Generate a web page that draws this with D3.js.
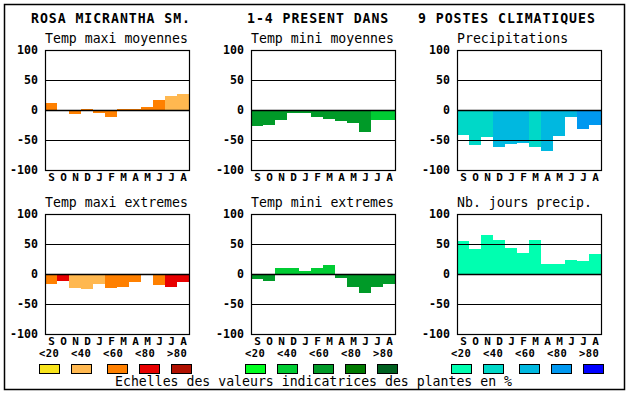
<!DOCTYPE html>
<html>
<head>
<meta charset="utf-8">
<script src="https://cdn.jsdelivr.net/npm/d3@7"></script>
<style>
  body { margin: 0; background: #fff; }
  svg text { font-family: "DejaVu Sans Mono", monospace; fill: #000; }
</style>
</head>
<body>
<div id="chart"></div>
<script>
// months, Sept -> Aug
var months = ["S", "O", "N", "D", "J", "F", "M", "A", "M", "J", "J", "A"];
var yTicks = [100, 50, 0, -50, -100];
var legendLabels = ["<20", "<40", "<60", "<80", ">80"];

var headerTexts = ["ROSA MICRANTHA SM.", "1-4 PRESENT DANS", "9 POSTES CLIMATIQUES"];
var footerText = "Echelles des valeurs indicatrices des plantes en %";

var warmColors = ["#f8e41c", "#ffb850", "#ff8000", "#e80000", "#b01000"];
var greenColors = ["#00ff20", "#00cc33", "#009a28", "#007a00", "#006020"];
var blueColors = ["#00ffb0", "#00d8c8", "#00b8e0", "#0098f0", "#0000ff"];

var panelTitles = ["Temp maxi moyennes", "Temp mini moyennes", "Precipitations",
  "Temp maxi extremes", "Temp mini extremes", "Nb. jours precip."];

// values per month and colour class (index into the palette)
var tmaxMoy = [12, 0, -6, 2, -5, -12, 2, 2, 5, 16, 24, 27];
var tmaxMoyCls = [2, 2, 2, 2, 2, 2, 2, 2, 2, 2, 1, 1];
var tminMoy = [-27, -25, -17, -5, -5, -12, -15, -18, -22, -37, -17, -17];
var tminMoyCls = [2, 2, 2, 2, 2, 2, 2, 2, 2, 2, 1, 1];
var precip = [-42, -58, -45, -62, -57, -55, -62, -68, -43, -12, -32, -25];
var precipCls = [1, 1, 1, 2, 2, 2, 1, 2, 2, 2, 3, 3];
var tmaxExt = [-17, -11, -23, -25, -17, -23, -22, -13, 0, -18, -22, -13];
var tmaxExtCls = [2, 3, 1, 1, 1, 2, 2, 2, 2, 2, 3, 3];
var tminExt = [-8, -12, 10, 10, 5, 10, 15, -7, -22, -32, -22, -17];
var tminExtCls = [2, 2, 1, 1, 1, 1, 1, 2, 2, 2, 2, 2];
var nbJours = [55, 42, 65, 57, 43, 35, 57, 17, 17, 23, 22, 33];
var nbJoursCls = [0, 0, 0, 0, 0, 0, 0, 0, 0, 0, 0, 0];

var panels = [
  { title: panelTitles[0], values: tmaxMoy, cls: tmaxMoyCls, palette: warmColors, col: 0, row: 0 },
  { title: panelTitles[1], values: tminMoy, cls: tminMoyCls, palette: greenColors, col: 1, row: 0 },
  { title: panelTitles[2], values: precip, cls: precipCls, palette: blueColors, col: 2, row: 0 },
  { title: panelTitles[3], values: tmaxExt, cls: tmaxExtCls, palette: warmColors, col: 0, row: 1 },
  { title: panelTitles[4], values: tminExt, cls: tminExtCls, palette: greenColors, col: 1, row: 1 },
  { title: panelTitles[5], values: nbJours, cls: nbJoursCls, palette: blueColors, col: 2, row: 1 }
];

var width = 630, height = 394;
var colLeft = [45, 251, 457];
var rowTop = [50, 214];
var pw = 144, ph = 120;

var svg = d3.select('#chart').append('svg')
  .attr('width', width)
  .attr('height', height);

// outer frame
svg.append('rect')
  .attr('x', 4.5).attr('y', 4.5)
  .attr('width', 620).attr('height', 385)
  .attr('fill', 'none').attr('stroke', '#000').attr('stroke-width', 1.5);

// header
var headerX = [31, 247, 418];
svg.selectAll('text.header')
  .data(headerTexts)
  .enter().append('text')
    .attr('class', 'header')
    .attr('x', function (d, i) { return headerX[i]; })
    .attr('y', 23)
    .style('font-size', '13.2px')
    .style('font-weight', 'bold')
    .style('letter-spacing', '0.95px')
    .text(function (d) { return d; });

var x = d3.scaleBand().domain(d3.range(12)).range([0, pw]).padding(0);
var y = d3.scaleLinear().domain([-100, 100]).range([ph, 0]);

panels.forEach(function (p) {
  var g = svg.append('g')
    .attr('transform', 'translate(' + colLeft[p.col] + ',' + rowTop[p.row] + ')');

  g.append('text')
    .attr('x', 0).attr('y', -7)
    .style('font-size', '13.2px')
    .text(p.title);

  // bars
  g.selectAll('rect.bar')
    .data(p.values)
    .enter().append('rect')
      .attr('class', 'bar')
      .attr('x', function (d, i) { return x(i); })
      .attr('width', x.bandwidth())
      .attr('y', function (d) { return y(Math.max(0, d)); })
      .attr('height', function (d) { return Math.abs(y(d) - y(0)); })
      .attr('fill', function (d, i) { return p.palette[p.cls[i]]; })
      .attr('shape-rendering', 'crispEdges');

  // grid lines
  g.selectAll('line.grid')
    .data([50, 0, -50])
    .enter().append('line')
      .attr('x1', 0).attr('x2', pw)
      .attr('y1', function (d) { return Math.round(y(d)) + 0.5; })
      .attr('y2', function (d) { return Math.round(y(d)) + 0.5; })
      .attr('stroke', '#000')
      .attr('stroke-width', function (d) { return d === 0 ? 1.5 : 1.2; });

  g.append('rect')
    .attr('x', 0.5).attr('y', 0.5)
    .attr('width', pw).attr('height', ph)
    .attr('fill', 'none').attr('stroke', '#000').attr('stroke-width', 1.2);

  // y tick labels
  g.selectAll('text.ytick')
    .data(yTicks)
    .enter().append('text')
      .attr('x', -7)
      .attr('y', function (d) { return y(d); })
      .attr('dy', '0.36em')
      .attr('text-anchor', 'end')
      .style('font-size', '11.6px')
      .style('font-weight', 'bold')
      .text(function (d) { return d; });

  // month labels
  g.selectAll('text.month')
    .data(months)
    .enter().append('text')
      .attr('x', function (d, i) { return x(i) + x.bandwidth() / 2 + 0.5; })
      .attr('y', ph + 10.5)
      .attr('text-anchor', 'middle')
      .style('font-size', '11px')
      .style('font-weight', 'bold')
      .text(function (d) { return d; });

  // legend below bottom row
  if (p.row === 1) {
    var boxOff = [-6, 26, 62, 94, 126];
    g.selectAll('text.leg')
      .data(legendLabels)
      .enter().append('text')
        .attr('x', function (d, i) { return -6 + 32 * i; })
        .attr('y', ph + 23)
        .style('font-size', '10.5px')
        .style('font-weight', 'bold')
        .style('letter-spacing', '0.4px')
        .text(function (d) { return d; });
    g.selectAll('rect.leg')
      .data(p.palette)
      .enter().append('rect')
        .attr('x', function (d, i) { return boxOff[i] + 0.5; })
        .attr('y', ph + 30.5)
        .attr('width', 20).attr('height', 9)
        .attr('fill', function (d) { return d; })
        .attr('stroke', '#000').attr('stroke-width', 1);
  }
});

svg.append('text')
  .attr('x', 115).attr('y', 386)
  .style('font-size', '13.2px')
  .text(footerText);
</script>
</body>
</html>
